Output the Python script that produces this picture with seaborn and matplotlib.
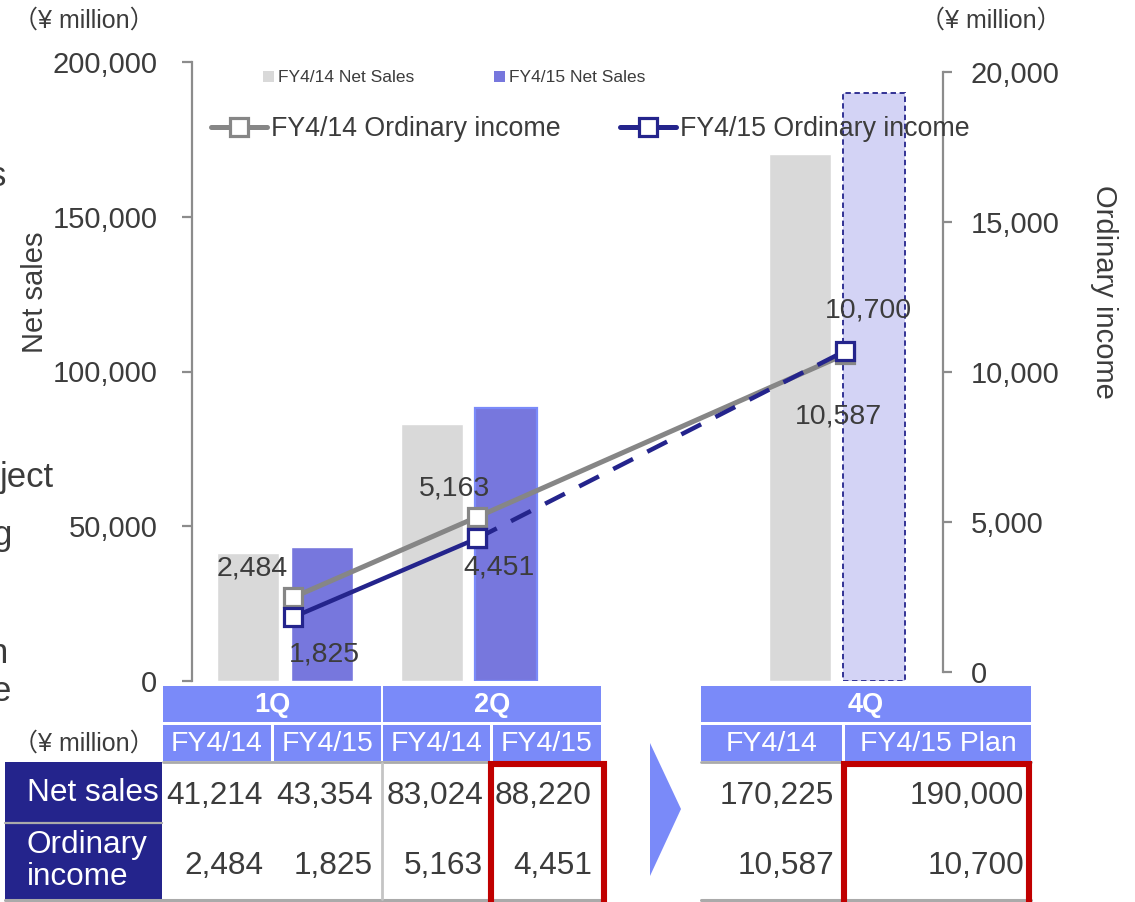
import numpy as np
import pandas as pd
import matplotlib.pyplot as plt
import seaborn as sns
from matplotlib.patches import Rectangle, Polygon, Patch
from matplotlib.lines import Line2D
from matplotlib.ticker import FuncFormatter

# data
quarters = ['1Q', '2Q', '4Q']
all_quarters = ['1Q', '2Q', '3Q', '4Q']
years = ['FY4/14', 'FY4/15']
sales_prev = [41214, 83024, 170225]
sales_cur = [43354, 88220, 190000]
oi_prev = [2484, 5163, 10587]
oi_cur = [1825, 4451, 10700]
sub_headers = ['FY4/14', 'FY4/15', 'FY4/14', 'FY4/15', 'FY4/14', 'FY4/15 Plan']

GRAY_BAR = '#d9d9d9'
BLUE_BAR = '#7777dd'
PLAN_FILL = '#d3d3f5'
NAVY = '#24248c'
HEAD = '#7a8af9'
LINE_GRAY = '#868686'
SPINE = '#8c8c8c'
TXT = '#3c3c3c'
RED = '#c00000'
SEP = '#aaaaaa'

sns.set_style('white')
plt.rcParams['font.family'] = ['Liberation Sans', 'Noto Sans CJK JP']
plt.rcParams['text.color'] = TXT

W, H = 1135, 902
def fx(px):
    return px / W
def fy(py):
    return 1 - py / H

fig = plt.figure(figsize=(W / 100, H / 100), dpi=100)
ax = fig.add_axes([fx(192), fy(681), fx(943) - fx(192), fy(62) - fy(681)])

df = pd.DataFrame({'quarter': quarters * 2,
                   'year': np.repeat(years, len(quarters)),
                   'sales': sales_prev + sales_cur})
sns.barplot(data=df, x='quarter', y='sales', hue='year', order=all_quarters,
            hue_order=years, palette=[GRAY_BAR, BLUE_BAR], width=0.8, gap=0.16,
            saturation=1, legend=False, errorbar=None, ax=ax)

cur_bars = ax.containers[1]
cur_bars[1].set_edgecolor(HEAD)
cur_bars[1].set_linewidth(1.6)
plan = cur_bars[-1]
plan.set_facecolor(PLAN_FILL)
plan.set_edgecolor(NAVY)
plan.set_linestyle((0, (3, 2)))
plan.set_linewidth(1.3)

ax.set_ylim(0, 200000)
ax.set_yticks(np.arange(0, 200001, 50000))
ax.yaxis.set_major_formatter(FuncFormatter(lambda v, p: f'{int(v):,}'))
ax.set_xlabel('')
ax.set_ylabel('')
for s in ['top', 'right', 'bottom']:
    ax.spines[s].set_visible(False)
ax.spines['left'].set_color(SPINE)
ax.spines['left'].set_linewidth(1.6)
ax.tick_params(axis='y', left=True, direction='out', length=7, width=1.6,
               color=SPINE, pad=18, labelsize=21, labelcolor=TXT)
ax.tick_params(axis='x', bottom=False, labelbottom=False)

# ordinary income lines on the right axis
ax2 = ax.twinx()
xs = np.array([0, 1, 3]) + 0.0435
mk = dict(marker='s', markersize=13, markerfacecolor='white', markeredgewidth=2.3)
sns.lineplot(x=xs, y=oi_prev, ax=ax2, color=LINE_GRAY, lw=3.6,
             markeredgecolor=LINE_GRAY, **mk)
sns.lineplot(x=xs[1:], y=oi_cur[1:], ax=ax2, color=NAVY, lw=3.2,
             linestyle=(0, (5, 3.6)), markeredgecolor=NAVY, **mk)
sns.lineplot(x=xs[:2], y=oi_cur[:2], ax=ax2, color=NAVY, lw=3.2,
             markeredgecolor=NAVY, **mk)

ax2.set_ylim(-300, 20333)
ax2.set_yticks(np.arange(0, 20001, 5000))
ax2.yaxis.set_major_formatter(FuncFormatter(lambda v, p: f'{int(v):,}'))
ax2.set_xlabel('')
ax2.set_ylabel('')
for s in ['top', 'left', 'bottom']:
    ax2.spines[s].set_visible(False)
ax2.spines['right'].set_color(SPINE)
ax2.spines['right'].set_linewidth(1.6)
ax2.spines['right'].set_bounds(0, 20000)
ax2.tick_params(axis='y', right=True, direction='out', length=6.5, width=1.6,
                color=SPINE, pad=13.5, labelsize=21, labelcolor=TXT)
ax2.tick_params(axis='x', bottom=False, labelbottom=False)
ax.set_xlim(-0.505, 3.576)

# data labels (offsets in points)
label_pts = [(xs[0], oi_prev[0], -29.5, 23), (xs[0], oi_cur[0], 23, -24.5),
             (xs[1], oi_prev[1], -16.5, 23), (xs[1], oi_cur[1], 16, -18.5),
             (xs[2], oi_cur[2], 17, 31), (xs[2], oi_prev[2], -5, -42.5)]
for x, y, dx, dy in label_pts:
    ax2.annotate(f'{y:,}', (x, y), xytext=(dx, dy), textcoords='offset points',
                 ha='center', va='center_baseline', fontsize=20.5, color=TXT)

# legends
bar_handles = [Patch(facecolor=c, edgecolor='none') for c in [GRAY_BAR, BLUE_BAR]]
fig.legend(bar_handles, [f'{y} Net Sales' for y in years], ncol=2,
           loc='center left', bbox_to_anchor=(fx(263), fy(78)), frameon=False,
           fontsize=12.5, handlelength=0.62, handleheight=0.62, handletextpad=0.25,
           columnspacing=4.6, borderpad=0, borderaxespad=0, labelcolor=TXT)
line_handles = [Line2D([], [], color=c, lw=3.6, marker='s', markersize=13,
                       markerfacecolor='white', markeredgecolor=c, markeredgewidth=2.3)
                for c in [LINE_GRAY, NAVY]]
fig.legend(line_handles, [f'{y} Ordinary income' for y in years], ncol=2,
           loc='center left', bbox_to_anchor=(fx(211), fy(129)), frameon=False,
           fontsize=19.3, handlelength=2.1, handletextpad=0.15,
           columnspacing=2.2, borderpad=0, borderaxespad=0, labelcolor=TXT)

# axis titles and units
fig.text(fx(35), fy(292), 'Net sales', rotation=90, ha='center', va='center', fontsize=21)
fig.text(fx(1104), fy(292), 'Ordinary income', rotation=-90, ha='center', va='center', fontsize=21)
fig.text(fx(84), fy(21), '（¥ million）', ha='center', va='center', fontsize=18)
fig.text(fx(991), fy(21), '（¥ million）', ha='center', va='center', fontsize=18)

# clipped text from the slide behind
for txt, px, py in [('s', 6, 186), ('ject', 54, 487), ('g', 12, 545),
                    ('n', 8, 663), ('e', 11, 701)]:
    fig.text(fx(px), fy(py), txt, ha='right', va='baseline', fontsize=25)

# table below the chart, drawn in pixel coordinates
tab = fig.add_axes([0, 0, 1, 1])
tab.set_xlim(0, W)
tab.set_ylim(H, 0)
tab.axis('off')
tab.patch.set_visible(False)

groups = [(163, 381, '1Q'), (383, 601, '2Q'), (701, 1031, '4Q')]
for x0, x1, lab in groups:
    tab.add_patch(Rectangle((x0, 686), x1 - x0, 36, color=HEAD, lw=0))
    tab.text((x0 + x1) / 2, 705, lab, ha='center', va='center', color='white',
             fontsize=19.5, fontweight='bold')
cols = [(163, 271), (274, 381), (383, 490), (493, 601), (701, 842), (845, 1031)]
for (x0, x1), lab in zip(cols, sub_headers):
    tab.add_patch(Rectangle((x0, 725), x1 - x0, 36, color=HEAD, lw=0))
    tab.text((x0 + x1) / 2, 744, lab, ha='center', va='center', color='white',
             fontsize=20.5)

tab.text(84, 744, '（¥ million）', ha='center', va='center', fontsize=18)

tab.add_patch(Rectangle((5, 762), 157, 60, color=NAVY, lw=0))
tab.add_patch(Rectangle((5, 824), 157, 75, color=NAVY, lw=0))
tab.plot([5, 162], [823, 823], color=SEP, lw=1.6)
tab.text(27, 793, 'Net sales', ha='left', va='center', color='white', fontsize=22.7)
tab.text(27, 861, 'Ordinary\nincome', ha='left', va='center', color='white',
         fontsize=22.7, linespacing=1.1)

for xa, xb in [(163, 601), (701, 1031)]:
    tab.plot([xa, xb], [762, 762], color=SEP, lw=2)
tab.plot([5, 601], [899.5, 899.5], color=SEP, lw=2.2)
tab.plot([701, 1031], [899.5, 899.5], color=SEP, lw=2.2)
tab.plot([381.5, 381.5], [763, 899], color='#c4c4c4', lw=2)

sales_row = [v for pair in zip(sales_prev, sales_cur) for v in pair]
oi_row = [v for pair in zip(oi_prev, oi_cur) for v in pair]
right_edges = [263, 373, 483, 592, 834, 1024]
for xr, s_val, o_val in zip(right_edges, sales_row, oi_row):
    tab.text(xr, 793, f'{s_val:,}', ha='right', va='center_baseline', fontsize=22.8)
    tab.text(xr, 862, f'{o_val:,}', ha='right', va='center_baseline', fontsize=22.8)

for x0, x1 in [(491, 604), (844, 1029)]:
    tab.plot([x0, x0, x1, x1], [915, 764, 764, 915], color=RED, lw=4.4,
             solid_joinstyle='miter')

tab.add_patch(Polygon([(650, 743), (681, 809), (650, 876)], closed=True,
                      color=HEAD, lw=0))

fig.savefig('out.png', dpi=100)
